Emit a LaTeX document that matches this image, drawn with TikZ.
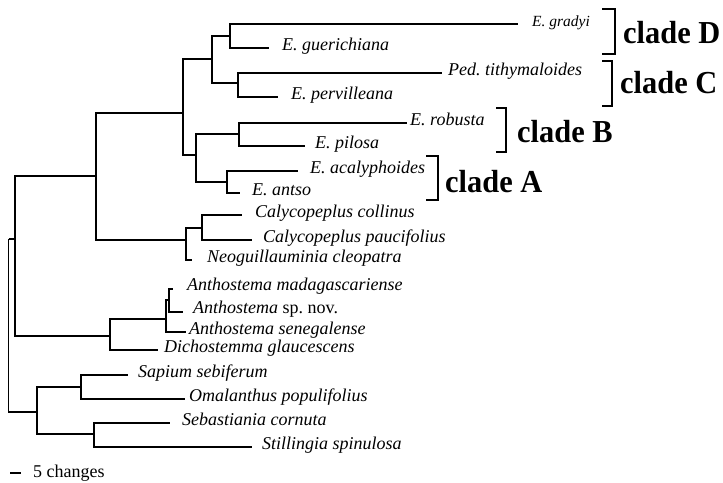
\documentclass[tikz,border=0pt]{standalone}
\usepackage{fontspec}
\setmainfont{Liberation Serif}
\newfontfamily\cladefont[FakeStretch=0.95]{Liberation Serif}
\begin{document}
\begin{tikzpicture}[x=1pt,y=-1pt,
  branch/.style={line width=1.5pt},
  bracket/.style={line width=1.3pt},
  taxon/.style={anchor=mid west,inner sep=0pt,font=\fontsize{18}{20}\selectfont\itshape},
  smalltaxon/.style={anchor=base west,inner sep=0pt,font=\fontsize{15.5}{17}\selectfont\itshape},
  cladelabel/.style={anchor=base west,inner sep=0pt,font=\fontsize{32}{36}\selectfont\cladefont\bfseries},
  scalelabel/.style={anchor=base west,inner sep=0pt,font=\fontsize{18}{20}\selectfont}]
\useasboundingbox (0,0) rectangle (723,482);

% internal nodes: x of the vertical bar, y where the parent branch enters
\coordinate (root) at (8.5,239);
\coordinate (n15)  at (15,239);
\coordinate (nBig) at (96,176);
\coordinate (nEu)  at (183,113);
\coordinate (nDC)  at (212,59);
\coordinate (nD)   at (230,36);
\coordinate (nC)   at (238,83);
\coordinate (nBA)  at (196,155);
\coordinate (nB)   at (239,134);
\coordinate (nA)   at (227,182);
\coordinate (nCN)  at (186,240);
\coordinate (nCal) at (202,228);
\coordinate (nAth) at (110,336);
\coordinate (nAn)  at (166,319);
\coordinate (nAn2) at (169,300);
\coordinate (nBot) at (37,412);
\coordinate (nSO)  at (81,387);
\coordinate (nSS)  at (94,434);

% branch tips
\coordinate (tGra) at (518,24);
\coordinate (tGue) at (269,48);
\coordinate (tPed) at (442,73);
\coordinate (tPer) at (278,97);
\coordinate (tRob) at (407,123);
\coordinate (tPil) at (305,146);
\coordinate (tAca) at (298,171);
\coordinate (tAnt) at (240,193);
\coordinate (tCol) at (242,215);
\coordinate (tPau) at (252,240);
\coordinate (tNeo) at (192,260);
\coordinate (tMad) at (173,289);
\coordinate (tNov) at (183,312);
\coordinate (tSen) at (186,332);
\coordinate (tDic) at (158,350);
\coordinate (tSap) at (128,375);
\coordinate (tOma) at (185,399);
\coordinate (tSeb) at (170,423);
\coordinate (tSti) at (252,447);

% taxon labels
\node[smalltaxon] (lGra) at (532,26) {E. gradyi};
\node[taxon] (lGue) at (282,48)  {E. guerichiana};
\node[taxon] (lPed) at (448,73)  {Ped.\ tithymaloides};
\node[taxon] (lPer) at (291,97)  {E. pervilleana};
\node[taxon] (lRob) at (410,123) {E. robusta};
\node[taxon] (lPil) at (315,146) {E. pilosa};
\node[taxon] (lAca) at (310,171) {E. acalyphoides};
\node[taxon] (lAnt) at (252,193) {E. antso};
\node[taxon] (lCol) at (255,215) {Calycopeplus collinus};
\node[taxon] (lPau) at (263,240) {Calycopeplus paucifolius};
\node[taxon] (lNeo) at (207,260) {Neoguillauminia cleopatra};
\node[taxon] (lMad) at (187,288) {Anthostema madagascariense};
\node[taxon] (lNov) at (193,311) {Anthostema \upshape sp.\ nov.};
\node[taxon] (lSen) at (189,332) {Anthostema senegalense};
\node[taxon] (lDic) at (164,350) {Dichostemma glaucescens};
\node[taxon] (lSap) at (138,375) {Sapium sebiferum};
\node[taxon] (lOma) at (189,399) {Omalanthus populifolius};
\node[taxon] (lSeb) at (182,423) {Sebastiania cornuta};
\node[taxon] (lSti) at (262,447) {Stillingia spinulosa};

% tree
\draw[branch] (root) |- (n15)  (root) |- (nBot);
\draw[branch] (n15)  |- (nBig) (n15)  |- (nAth);
\draw[branch] (nBig) |- (nEu)  (nBig) |- (nCN);
\draw[branch] (nEu)  |- (nDC)  (nEu)  |- (nBA);
\draw[branch] (nDC)  |- (nD)   (nDC)  |- (nC);
\draw[branch] (nD)   |- (tGra) (nD)   |- (tGue);
\draw[branch] (nC)   |- (tPed) (nC)   |- (tPer);
\draw[branch] (nBA)  |- (nB)   (nBA)  |- (nA);
\draw[branch] (nB)   |- (tRob) (nB)   |- (tPil);
\draw[branch] (nA)   |- (tAca) (nA)   |- (tAnt);
\draw[branch] (nCN)  |- (nCal) (nCN)  |- (tNeo);
\draw[branch] (nCal) |- (tCol) (nCal) |- (tPau);
\draw[branch] (nAth) |- (nAn)  (nAth) |- (tDic);
\draw[branch] (nAn)  |- (nAn2) (nAn)  |- (tSen);
\draw[branch] (nAn2) |- (tMad) (nAn2) |- (tNov);
\draw[branch] (nBot) |- (nSO)  (nBot) |- (nSS);
\draw[branch] (nSO)  |- (tSap) (nSO)  |- (tOma);
\draw[branch] (nSS)  |- (tSeb) (nSS)  |- (tSti);

% clade brackets and names
\draw[bracket] (602,9)   -- (615,9)   -- (615,54)  -- (602,54);
\draw[bracket] (602,61)  -- (612,61)  -- (612,106) -- (602,106);
\draw[bracket] (496,108) -- (506,108) -- (506,152) -- (496,152);
\draw[bracket] (426,156) -- (438,156) -- (438,200) -- (426,200);
\node[cladelabel] (cD) at (623,43)  {clade D};
\node[cladelabel] (cC) at (620,93)  {clade C};
\node[cladelabel] (cB) at (517,142) {clade B};
\node[cladelabel] (cA) at (445,192) {clade A};

% scale bar
\coordinate (sb0) at (10,473);
\coordinate (sb1) at (21,473);
\draw[line width=1.2pt] (sb0) -- (sb1);
\node[scalelabel] (sbl) at (33,477) {5 changes};
\end{tikzpicture}
\end{document}
